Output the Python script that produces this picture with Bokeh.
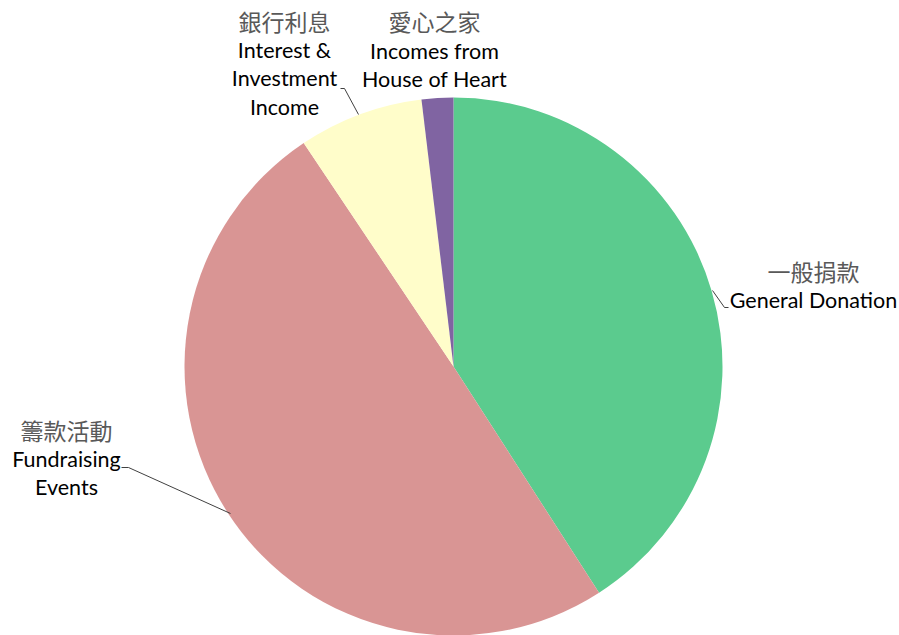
import math
from bokeh.plotting import figure
from bokeh.models import Range1d
from bokeh.core.properties import value
from bokeh.embed import file_html
from bokeh.resources import INLINE

# ---- data ----
categories_zh = ["一般捐款", "籌款活動", "銀行利息", "愛心之家"]
categories_en = [["General Donation"], ["Fundraising", "Events"],
                 ["Interest &", "Investment", "Income"], ["Incomes from", "House of Heart"]]
shares = [40.9, 49.7, 7.5, 1.9]
colors = ["#5BCB8E", "#D99594", "#FFFDCA", "#8064A2"]

W, H = 899, 635
p = figure(width=W, height=H, output_backend="svg", toolbar_location=None,
           x_range=Range1d(0, W), y_range=Range1d(0, H), min_border=0)
p.axis.visible = False
p.grid.visible = False
p.outline_line_color = None
p.background_fill_color = "white"
p.border_fill_color = "white"


def px(x, y):
    return x, H - y


cx, cy = px(453, 366)
R = 269
total = sum(shares)
start = math.pi / 2
starts, ends = [], []
for s in shares:
    a = 2 * math.pi * s / total
    starts.append(start)
    ends.append(start - a)
    start -= a

p.wedge(x=[cx] * 4, y=[cy] * 4, radius=R, start_angle=starts, end_angle=ends,
        direction="clock", fill_color=colors, line_color=None)

# leader lines
leaders = [
    [(712, 290), (724, 307), (728, 307)],
    [(230, 513), (128, 467), (121, 467)],
    [(358, 114), (344, 88), (340, 88)],
]
for pts in leaders:
    xs, ys = zip(*[px(a, b) for a, b in pts])
    p.line(list(xs), list(ys), line_color="#404040", line_width=1)

# label layout: (center x, zh y, first en y) in page pixels
label_pos = [(813, 270, 299), (66, 429, 458), (284, 20, 49), (434, 20, 50)]
line_h = 28.5
for zh, en, (lx, zy, ey) in zip(categories_zh, categories_en, label_pos):
    x0, y0 = px(lx, zy)
    p.text(x=[x0], y=[y0], text=[zh], text_align="center", text_baseline="middle",
           text_font=value("Noto Sans CJK TC"), text_font_size="23px", text_color="#595959")
    for i, t in enumerate(en):
        x1, y1 = px(lx, ey + i * line_h)
        p.text(x=[x1], y=[y1], text=[t], text_align="center", text_baseline="middle",
               text_font=value("Lato"), text_font_size="21.5px", text_color="#000000")

open("out.html", "w").write(file_html(p, INLINE))
